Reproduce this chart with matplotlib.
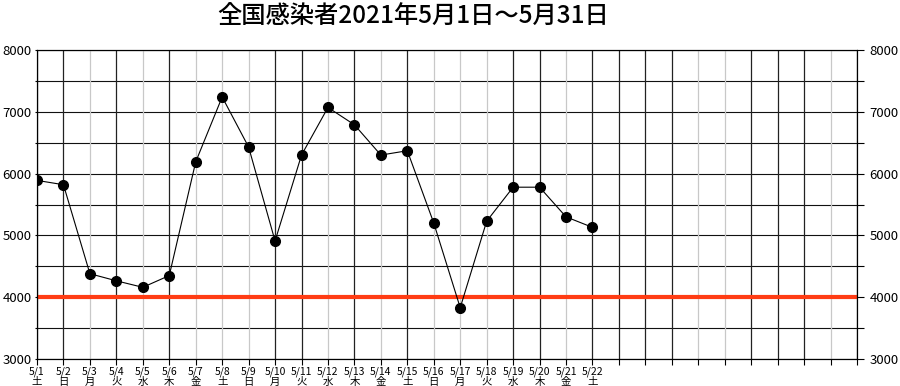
import matplotlib
matplotlib.use("Agg")
import matplotlib.pyplot as plt

plt.rcParams['font.family'] = ['Noto Sans CJK JP', 'DejaVu Sans']

# days of May 2021 (axis runs to day 32 = right edge)
days = list(range(1, 33))
data_days = list(range(1, 23))
cases = [5890, 5820, 4380, 4265, 4160, 4350, 6190, 7240, 6430, 4910, 6300,
         7070, 6790, 6300, 6370, 5200, 3830, 5230, 5780, 5780, 5300, 5130]
weekdays = ["土", "日", "月", "火", "水", "木", "金", "土", "日", "月", "火",
            "水", "木", "金", "土", "日", "月", "火", "水", "木", "金", "土"]
# vertical grid line shade per day (B = dark, G = light), as seen in the picture
vshade = "BBGBGBGGGBBGBGBGGGBBGBBBBGGBBBGB"
threshold = 4000
title = "全国感染者2021年5月1日～5月31日"

fig = plt.figure(figsize=(9, 3.86), dpi=100)
ax = fig.add_axes([37 / 900, 27 / 386, 820 / 900, 309 / 386])

ax.set_xlim(1, 32)
ax.set_ylim(3000, 8000)

# grid
for y in range(3000, 8001, 500):
    ax.axhline(y, color="#111111", lw=0.8, zorder=1)
for d, s in zip(days, vshade):
    ax.axvline(d, color="#222222" if s == "B" else "#c8c8c8", lw=0.9, zorder=1)

ax.axhline(threshold, color="#ff3c14", lw=3.0, zorder=2)

ax.plot(data_days, cases, color="black", lw=0.8, marker="o", markersize=7, zorder=3)

xlabels = [f"5/{d}\n{w}" for d, w in zip(data_days, weekdays)]
xlabels += [""] * (len(days) - len(data_days))
ax.set_xticks(days)
ax.set_xticklabels(xlabels, fontsize=7.5, linespacing=0.95)
ax.tick_params(axis="x", length=4, width=0.8, pad=1.5)

yt = list(range(3000, 8001, 500))
ylab = [str(y) if y % 1000 == 0 else "" for y in yt]
ax.set_yticks(yt)
ax.set_yticklabels(ylab, fontsize=9.5)
ax.tick_params(axis="y", length=1.5, width=0.8, pad=2.5)

ax2 = ax.twinx()
ax2.set_ylim(3000, 8000)
ax2.set_yticks(yt)
ax2.set_yticklabels(ylab, fontsize=9.5)
ax2.tick_params(axis="y", length=5, width=0.8, pad=4)

for a in (ax, ax2):
    for sp in a.spines.values():
        sp.set_color("black")
        sp.set_linewidth(0.8)

fig.text(0.459, 0.956, title, fontsize=17.5, fontweight="medium", ha="center", va="center")

fig.savefig("out.png", dpi=100)
